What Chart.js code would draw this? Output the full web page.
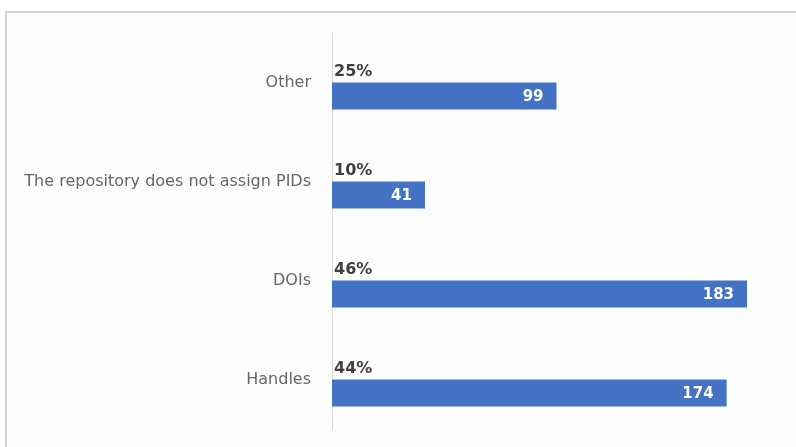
<!DOCTYPE html>
<html>
<head>
<meta charset="utf-8">
<script src="https://cdn.jsdelivr.net/npm/chart.js@4/dist/chart.umd.min.js"></script>
<style>
  html, body { margin: 0; padding: 0; background: #ffffff; }
  body { width: 796px; height: 447px; position: relative; overflow: hidden; }
  #frame {
    position: absolute; left: 5px; top: 11px; width: 900px; height: 500px;
    border-top: 2px solid #d4d4d4; border-left: 2px solid #d4d4d4;
    background: #fdfdfd; box-sizing: border-box;
  }
  #wrap { position: absolute; left: 0; top: 0; width: 796px; height: 447px; }
</style>
</head>
<body>
<div id="frame"></div>
<div id="wrap"><canvas id="chart" width="796" height="447"></canvas></div>
<script>
// Persistent identifier types used by repositories
const categories = ['Other', 'The repository does not assign PIDs', 'DOIs', 'Handles'];
const shares = [25, 10, 46, 44];        // percent of repositories
const counts = [99, 41, 183, 174];      // number of repositories

const BLUE = '#4472c4';

// Draws the share label above each bar and the count inside the bar end
const valueLabels = {
  id: 'valueLabels',
  afterDatasetsDraw(chart) {
    const ctx = chart.ctx;
    ctx.save();
    const pctMeta = chart.getDatasetMeta(0);
    const cntMeta = chart.getDatasetMeta(1);
    const left = chart.chartArea.left;
    ctx.textBaseline = 'middle';
    ctx.font = 'bold 16px "DejaVu Sans"';
    ctx.fillStyle = '#404040';
    ctx.textAlign = 'left';
    pctMeta.data.forEach((bar, i) => {
      ctx.fillText(shares[i] + '%', left + 2, bar.y + 3);
    });
    ctx.font = 'bold 15px "DejaVu Sans"';
    ctx.fillStyle = '#ffffff';
    ctx.textAlign = 'right';
    cntMeta.data.forEach((bar, i) => {
      ctx.fillText(String(counts[i]), bar.x - 13, bar.y + 1);
    });
    ctx.restore();
  }
};

new Chart(document.getElementById('chart'), {
  type: 'bar',
  data: {
    labels: categories,
    datasets: [
      {
        label: 'Share',
        data: shares,
        xAxisID: 'xp',
        backgroundColor: 'rgba(0,0,0,0)',
        borderWidth: 0
      },
      {
        label: 'Repositories',
        data: counts,
        xAxisID: 'x',
        backgroundColor: BLUE,
        borderWidth: 0
      }
    ]
  },
  options: {
    indexAxis: 'y',
    responsive: false,
    animation: false,
    devicePixelRatio: 1,
    categoryPercentage: 0.545,
    barPercentage: 1.0,
    layout: { padding: { left: 0, right: 10.4, top: 33, bottom: 18 } },
    plugins: { legend: { display: false }, tooltip: { enabled: false } },
    scales: {
      x: { display: false, min: 0, max: 200 },
      xp: { display: false, min: 0, max: 100 },
      y: {
        grid: { display: false },
        border: { display: true, color: '#d9d9d9', width: 1 },
        ticks: {
          padding: 13,
          color: '#666666',
          font: { family: '"DejaVu Sans"', size: 16 }
        },
        afterFit(scale) {
          scale.width = 332;
          scale.paddingTop = 0;
          scale.paddingBottom = 0;
        }
      }
    }
  },
  plugins: [valueLabels]
});
</script>
</body>
</html>
